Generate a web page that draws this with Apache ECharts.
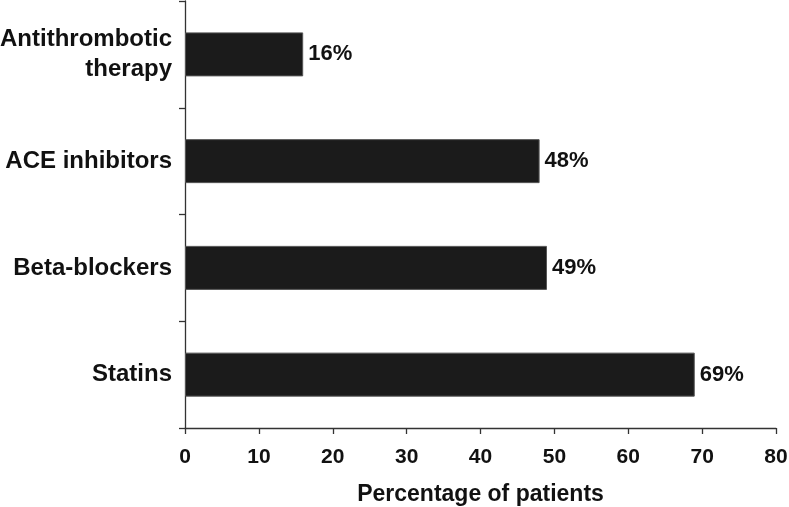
<!DOCTYPE html>
<html>
<head>
<meta charset="utf-8">
<script src="https://cdn.jsdelivr.net/npm/echarts@6/dist/echarts.min.js"></script>
<style>html,body{margin:0;padding:0;background:#fff;overflow:hidden}#c{width:789px;height:507px}</style>
</head>
<body>
<div id="c"></div>
<script>
var categories = ['Statins', 'Beta-blockers', 'ACE inhibitors', 'Antithrombotic\ntherapy'];
var values = [69, 49, 48, 16];
var xTicks = [0, 10, 20, 30, 40, 50, 60, 70, 80];
var xAxisTitle = 'Percentage of patients';

var font = '"Liberation Sans", Arial, Helvetica, sans-serif';
var chart = echarts.init(document.getElementById('c'), null, {renderer: 'canvas'});
chart.setOption({
  animation: false,
  backgroundColor: '#fff',
  grid: {left: 185, right: 13, top: 1, bottom: 79, containLabel: false, outerBoundsMode: 'none'},
  xAxis: {
    type: 'value',
    min: xTicks[0], max: xTicks[xTicks.length - 1], interval: 10,
    name: xAxisTitle, nameLocation: 'middle', nameGap: 55,
    nameTextStyle: {fontFamily: font, fontWeight: 'bold', fontSize: 23, color: '#111'},
    axisLine: {show: true, lineStyle: {color: '#333', width: 1.3}},
    axisTick: {show: true, length: 6, lineStyle: {color: '#333', width: 1.3}},
    axisLabel: {fontFamily: font, fontWeight: 'bold', fontSize: 21, color: '#111', margin: 19},
    splitLine: {show: false}
  },
  yAxis: {
    type: 'category',
    data: categories,
    axisLine: {show: true, lineStyle: {color: '#333', width: 1.3}},
    axisTick: {show: true, length: 6, alignWithLabel: false, lineStyle: {color: '#333', width: 1.3}},
    axisLabel: {fontFamily: font, fontWeight: 'bold', fontSize: 24, color: '#111', margin: 13, lineHeight: 30, align: 'right'}
  },
  series: [{
    type: 'bar',
    data: values,
    barWidth: 44,
    itemStyle: {color: '#1b1b1b', borderColor: '#555', borderWidth: 1},
    label: {show: true, position: 'right', distance: 5, formatter: '{c}%',
      fontFamily: font, fontWeight: 'bold', fontSize: 22, color: '#111'}
  }]
});
</script>
</body>
</html>
